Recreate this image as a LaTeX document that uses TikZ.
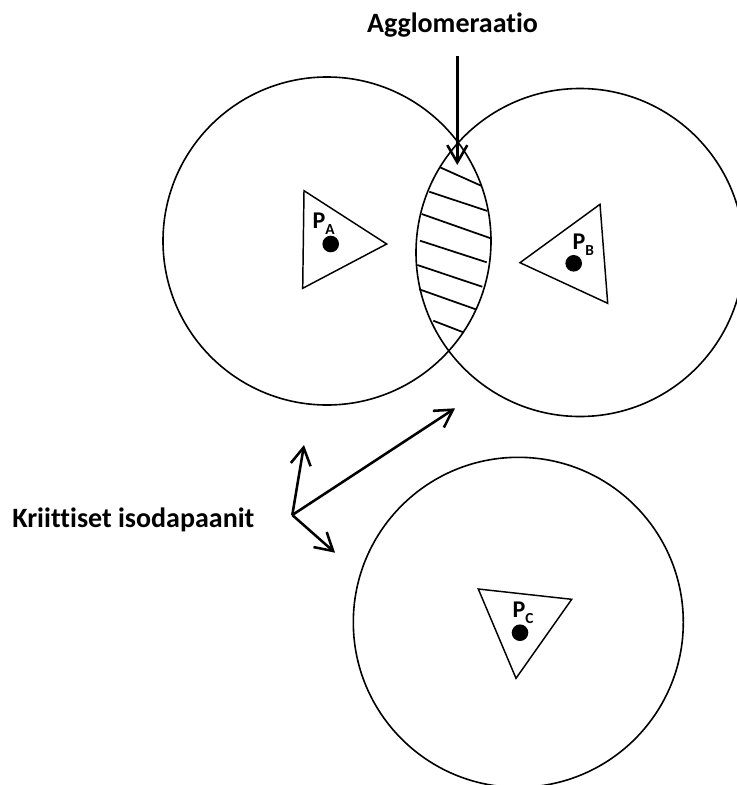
\documentclass[tikz,border=0pt]{standalone}
\usepackage{fontspec}
\setmainfont{Carlito}[Ligatures=NoCommon]
\usetikzlibrary{arrows.meta}
\tikzset{
  ring/.style={draw=black, line width=1.2pt},
  tri/.style={draw=black, line width=1.1pt, line join=miter},
  hatch/.style={draw=black, line width=1.3pt},
  pointer/.style={draw=black, line width=1.9pt, -{Straight Barb[length=13pt,width=15pt,line width=1.9pt]}},
  dotmark/.style={fill=black},
  bigtext/.style={font=\fontsize{21}{24}\selectfont\bfseries, inner sep=0pt},
  plab/.style={font=\fontsize{18}{21}\selectfont\bfseries, inner sep=0pt, anchor=base west},
}
\newcommand{\psub}[1]{P\raisebox{-4.7pt}{\fontsize{11.5}{13}\selectfont #1}}
\begin{document}
\begin{tikzpicture}[x=0.75pt, y=-0.75pt]
\useasboundingbox (0,0) rectangle (737,785);
\begin{scope}
\clip (0,0) rectangle (737,785);
% circles
\draw[ring] (327,241) circle (164);
\draw[ring] (580,252.5) circle (164);
\draw[ring] (518.3,622.3) circle (165);
\end{scope}
% hatching in lens
\draw[hatch] (440,167.3) -- (481.7,186);
\draw[hatch] (429.3,191.7) -- (487.3,211);
\draw[hatch] (421.7,214) -- (490.7,238.3);
\draw[hatch] (420,240.7) -- (486.7,262.3);
\draw[hatch] (417.3,265) -- (482.3,286.7);
\draw[hatch] (419.3,289.3) -- (475.7,309.3);
\draw[hatch] (433.3,320.7) -- (463.3,332.3);
% triangles
\draw[tri] (304,190.7) -- (386.7,244) -- (302.7,288.3) -- cycle;
\draw[tri] (600,204.3) -- (520,262.7) -- (607.7,303.3) -- cycle;
\draw[tri] (478.3,589) -- (571.7,599.3) -- (516,678.3) -- cycle;
% dots
\fill[dotmark] (330.7,244) circle (8.3);
\fill[dotmark] (573.7,263.3) circle (8.3);
\fill[dotmark] (520,632.7) circle (8.3);
% labels
\node[plab] (pa) at (312.3,228.2) {\psub{A}};
\node[plab] (pb) at (572.3,249.3) {\psub{B}};
\node[plab] (pc) at (512.3,617.2) {\psub{C}};
% agglomeration
\node[bigtext, anchor=base] (agg) at (452.5,32.3) {Agglomeraatio};
\coordinate (aggtop) at (457.3,56);
\coordinate (aggtip) at (457.3,165);
\draw[pointer] (aggtop) -- (aggtip);
% critical isodapanes
\node[bigtext, anchor=base west] (krit) at (12,527.3) {Kriittiset isodapaanit};
\coordinate (j) at (292.3,515);
\coordinate (t1) at (304,445);
\coordinate (t2) at (455,408.3);
\coordinate (t3) at (335,552.7);
\draw[pointer] (j) -- (t1);
\draw[pointer] (j) -- (t2);
\draw[pointer] (j) -- (t3);
\end{tikzpicture}
\end{document}
